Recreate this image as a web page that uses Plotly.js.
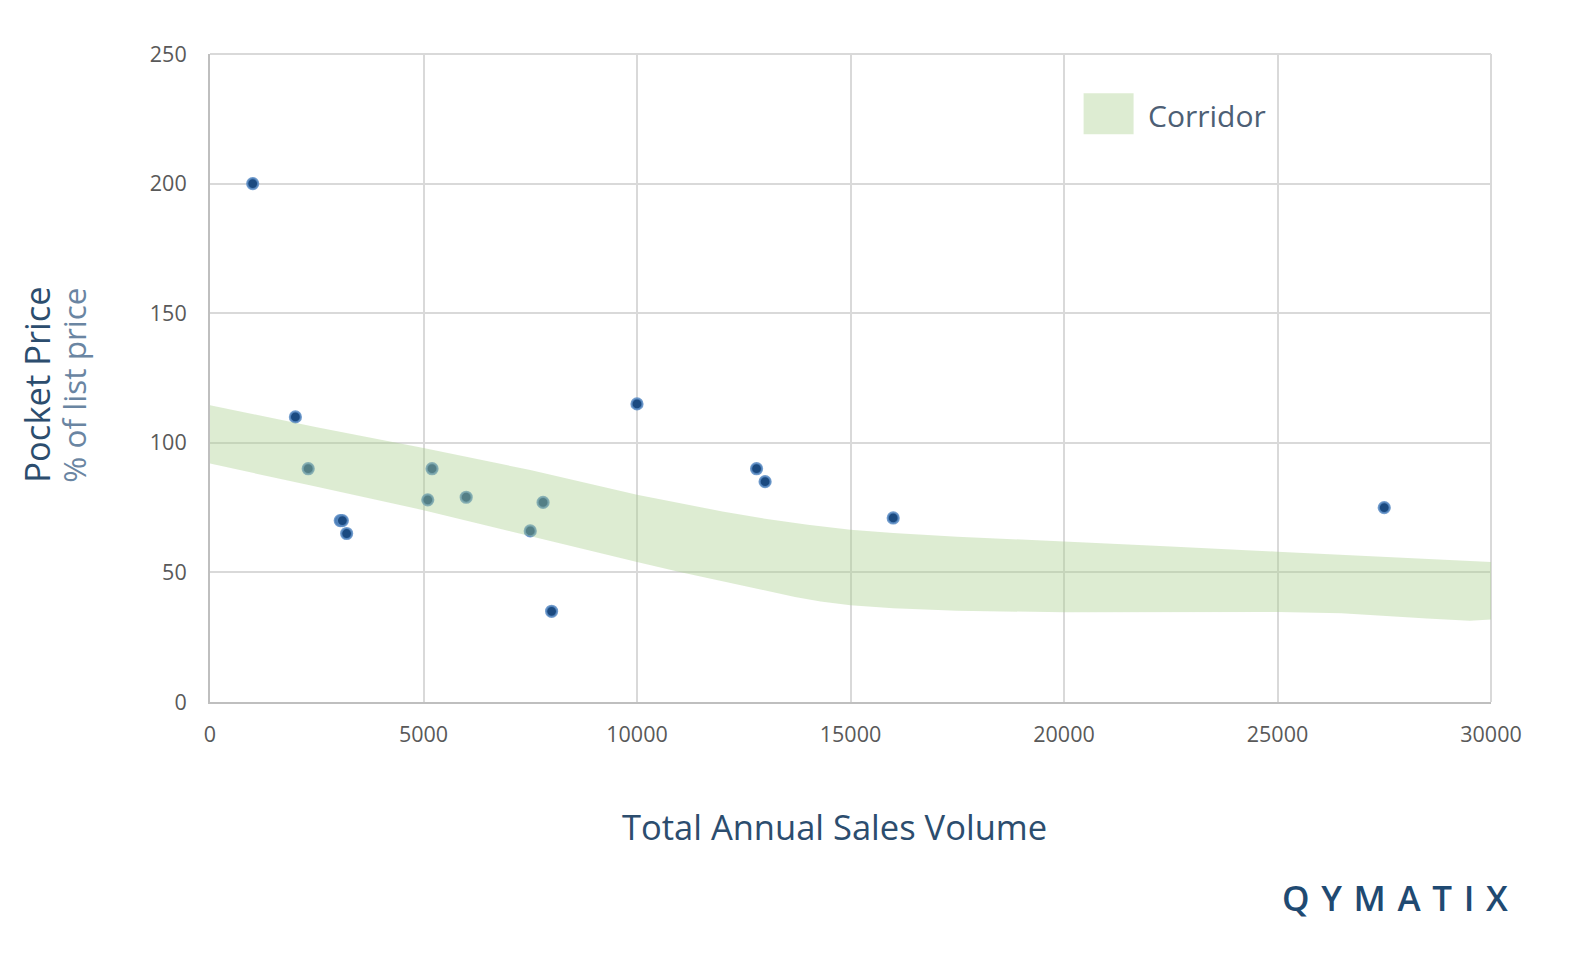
<!DOCTYPE html>
<html>
<head>
<meta charset="utf-8">
<script src="https://cdn.plot.ly/plotly-3.0.1.min.js"></script>
<style>html,body{margin:0;padding:0;background:#fff;}#chart{width:1592px;height:953px;}</style>
</head>
<body>
<div id="chart"></div>
<script>
// Customer data points
const salesVolume = [1000, 2000, 2300, 3050, 3100, 3200, 5100, 5200, 6000, 7500, 7800, 8000, 10000, 12800, 13000, 16000, 27500];
const pocketPrice = [200, 110, 90, 70, 70, 65, 78, 90, 79, 66, 77, 35, 115, 90, 85, 71, 75];

// Price corridor boundaries
const corridorUpperX = [0, 2500, 5000, 7500, 10000, 11000, 12000, 13000, 14000, 15000, 16000, 17500, 20000, 22500, 25000, 27500, 30000];
const corridorUpperY = [114.5, 106, 98, 89.5, 80, 76.8, 73.5, 70.7, 68.4, 66.5, 65.2, 63.8, 62, 60, 58, 56, 54];
const corridorLowerX = [0, 2500, 5000, 7500, 10000, 11000, 12000, 13000, 13700, 14300, 15000, 16000, 17500, 20000, 22500, 25000, 26500, 27500, 28500, 29500, 30000];
const corridorLowerY = [92, 83, 74, 64, 54, 50.2, 46.5, 43, 40.5, 38.8, 37.3, 36.2, 35.2, 34.6, 34.6, 34.7, 34.2, 33.3, 32.2, 31.3, 31.8];

const xTicks = [0, 5000, 10000, 15000, 20000, 25000, 30000];
const yTicks = [0, 50, 100, 150, 200, 250];

const polyX = corridorUpperX.concat(corridorLowerX.slice().reverse());
const polyY = corridorUpperY.concat(corridorLowerY.slice().reverse());

const traces = [
  {
    type: 'scatter', mode: 'markers', x: salesVolume, y: pocketPrice,
    marker: {size: 11, color: '#1b4a80', line: {width: 2.2, color: 'rgba(90,140,196,0.85)'}},
    showlegend: false, hoverinfo: 'x+y'
  },
  {
    type: 'scatter', mode: 'lines', x: polyX, y: polyY, fill: 'toself',
    fillcolor: 'rgba(169,208,142,0.4)', line: {width: 0, shape: 'linear', color: 'rgba(0,0,0,0)'},
    name: 'Corridor', showlegend: false, hoverinfo: 'skip'
  }
];

const PL = 210.2, PR = 1491.5, PT = 53.8, PB = 701.6;
const px = v => (v - PL) / (PR - PL);
const py = v => (PB - v) / (PB - PT);

const layout = {
  width: 1592, height: 953,
  margin: {l: PL, r: 1592 - PR, t: PT, b: 953 - PB},
  paper_bgcolor: '#ffffff', plot_bgcolor: '#ffffff',
  font: {family: 'Open Sans, sans-serif', color: '#595959'},
  showlegend: false,
  xaxis: {
    range: [0, 30000], tickvals: xTicks, ticktext: xTicks.map(String),
    showgrid: true, gridcolor: '#d9d9d9', gridwidth: 2,
    zeroline: false, showline: true, linecolor: '#bfbfbf', linewidth: 2,
    ticks: '', ticklabelstandoff: 12,
    tickfont: {size: 21.5, color: '#595959', family: 'Open Sans, sans-serif'},
    fixedrange: true
  },
  yaxis: {
    range: [0, 250], tickvals: yTicks, ticktext: yTicks.map(String),
    showgrid: true, gridcolor: '#d9d9d9', gridwidth: 2,
    zeroline: false, showline: true, linecolor: '#bfbfbf', linewidth: 2,
    ticks: '', ticklabelstandoff: 17,
    tickfont: {size: 21.5, color: '#595959', family: 'Open Sans, sans-serif'},
    fixedrange: true
  },
  shapes: [
    {type: 'line', xref: 'paper', yref: 'paper', x0: 0, x1: 1, y0: 1, y1: 1,
     line: {color: '#d9d9d9', width: 2}, layer: 'below'},
    {type: 'line', xref: 'paper', yref: 'paper', x0: 1, x1: 1, y0: 0, y1: 1,
     line: {color: '#d9d9d9', width: 2}, layer: 'below'},
    {type: 'rect', xref: 'paper', yref: 'paper',
     x0: px(1084), x1: px(1134), y0: py(134), y1: py(93),
     fillcolor: 'rgba(169,208,142,0.4)', line: {width: 0}}
  ],
  annotations: [
    {text: 'Corridor', xref: 'paper', yref: 'paper', showarrow: false,
     x: px(1146), xanchor: 'left', y: py(115), yanchor: 'middle',
     font: {family: 'Open Sans, sans-serif', size: 30, color: '#4d5f75'}},
    {text: 'Total Annual Sales Volume', xref: 'paper', yref: 'paper', showarrow: false,
     x: px(835), xanchor: 'center', y: py(826), yanchor: 'middle',
     font: {family: 'Open Sans, sans-serif', size: 34.5, color: '#2c4d6e'}},
    {text: 'Pocket Price', xref: 'paper', yref: 'paper', showarrow: false, textangle: -90,
     x: px(37), xanchor: 'center', y: py(384.5), yanchor: 'middle',
     font: {family: 'Open Sans, sans-serif', size: 34.5, color: '#2c4d6e'}},
    {text: '% of list price', xref: 'paper', yref: 'paper', showarrow: false, textangle: -90,
     x: px(74), xanchor: 'center', y: py(384.5), yanchor: 'middle',
     font: {family: 'Open Sans, sans-serif', size: 31.5, color: '#6a85a2'}},
    {text: 'Q\u2004Y\u2004M\u2004A\u2004T\u2004I\u2004X', xref: 'paper', yref: 'paper', showarrow: false,
     x: px(1395), xanchor: 'center', y: py(897.5), yanchor: 'middle',
     font: {family: 'Open Sans, sans-serif', size: 35, color: '#1f4a72', weight: 600}}
  ]
};

Plotly.newPlot('chart', traces, layout, {displayModeBar: false, staticPlot: true});
</script>
</body>
</html>
